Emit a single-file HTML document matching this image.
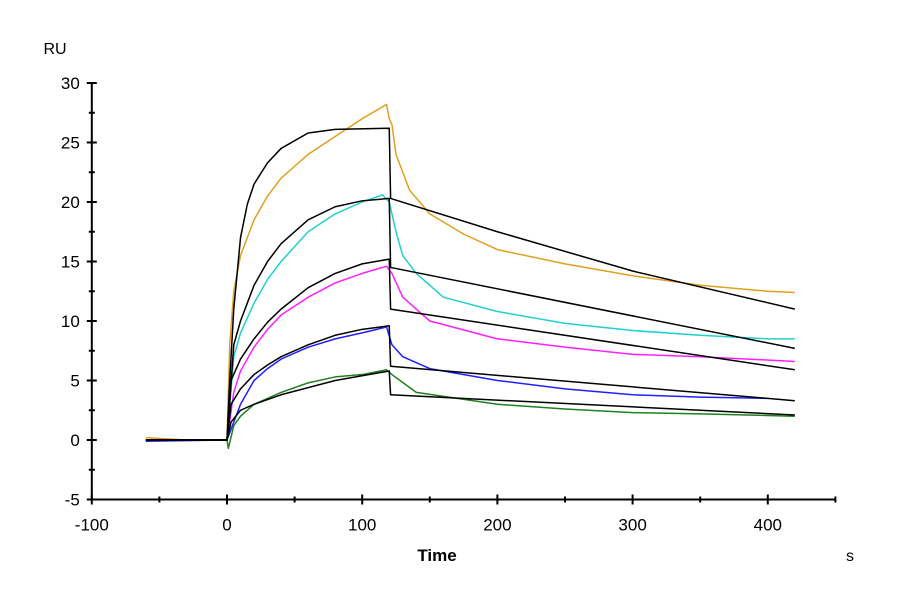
<!DOCTYPE html>
<html><head><meta charset="utf-8"><style>
body{margin:0;background:#fff}
svg text{font-family:"Liberation Sans",Arial,sans-serif;fill:#000}
</style></head><body>
<svg id="chart" width="900" height="600" viewBox="0 0 900 600" xmlns="http://www.w3.org/2000/svg">
<g id="axes"></g>
<g id="series"></g>
<text x="55" y="54" font-size="16" text-anchor="middle">RU</text>
<text x="437" y="561" font-size="17" font-weight="bold" text-anchor="middle">Time</text>
<text x="850" y="561" font-size="16" text-anchor="middle">s</text>
</svg>
<script>
const xTicks=[-100,0,100,200,300,400];
const yTicks=[-5,0,5,10,15,20,25,30];
const seriesNames=["conc-1","conc-2","conc-3","conc-4","conc-5","fit-1","fit-2","fit-3","fit-4","fit-5"];
const seriesColors=["#e0a020","#20d0d0","#ff20ff","#2020ff","#208020","#000","#000","#000","#000","#000"];
const tOrange=[-60,-30,0,2,5,10,20,30,40,60,80,100,118,120,122,125,135,150,175,200,250,300,350,400,420];
const vOrange=[0.2,0,0,8,12.5,15.5,18.5,20.5,22,24,25.5,27,28.2,27,26.5,24,21,19,17.3,16,14.8,13.8,13,12.5,12.4];
const tCyan=[-60,0,5,10,20,30,40,60,80,100,115,120,125,130,140,160,200,250,300,350,400,420];
const vCyan=[0,0,7,9,11.5,13.5,15,17.5,19,20,20.6,20,17.5,15.5,14,12,10.8,9.8,9.2,8.8,8.5,8.5];
const tMagenta=[-60,0,5,10,20,30,40,60,80,100,118,122,130,150,200,250,300,350,420];
const vMagenta=[0,0,4,5.8,7.8,9.3,10.5,12,13.2,14,14.6,14,12,10,8.5,7.8,7.2,7,6.6];
const tBlue=[-60,0,5,10,20,30,40,60,80,100,118,122,130,150,200,250,300,350,400];
const vBlue=[-0.1,0,1.5,3,5,6,6.8,7.8,8.5,9,9.5,8,7,6,5,4.3,3.8,3.6,3.5];
const tGreen=[-60,0,1,5,10,20,40,60,80,100,118,122,140,200,250,300,350,420];
const vGreen=[0,0,-0.7,1.2,2,3,4,4.8,5.3,5.5,5.9,5.5,4,3,2.6,2.3,2.2,2.0];
const tFit1=[-60,0,2,5,10,15,20,30,40,60,80,120,121,200,300,420];
const vFit1=[0,0,5,11,17,19.8,21.5,23.3,24.5,25.8,26.1,26.2,20.3,17.5,14.2,11];
const tFit2=[-60,0,5,10,20,30,40,60,80,100,120,121,420];
const vFit2=[0,0,8,10,13,15,16.5,18.5,19.6,20.1,20.3,14.5,7.7];
const tFit3=[-60,0,3,10,20,30,40,60,80,100,120,121,420];
const vFit3=[0,0,5,6.8,8.5,9.9,11,12.8,14,14.8,15.2,11,5.9];
const tFit4=[-60,0,3,10,20,30,40,60,80,100,120,121,420];
const vFit4=[0,0,3,4.3,5.5,6.3,7,8,8.8,9.3,9.6,6.2,3.3];
const tFit5=[-60,0,3,10,20,40,80,120,121,420];
const vFit5=[0,0,1.5,2.5,3,3.8,5,5.8,3.8,2.1];
const allT=[tOrange,tCyan,tMagenta,tBlue,tGreen,tFit1,tFit2,tFit3,tFit4,tFit5];
const allV=[vOrange,vCyan,vMagenta,vBlue,vGreen,vFit1,vFit2,vFit3,vFit4,vFit5];
const X=t=>227+t*1.352;
const Y=v=>440-v*11.9;
const NS="http://www.w3.org/2000/svg";
const ax=document.getElementById('axes');
function ln(x1,y1,x2,y2,name){const l=document.createElementNS(NS,'line');
l.setAttribute('x1',x1);l.setAttribute('y1',y1);l.setAttribute('x2',x2);l.setAttribute('y2',y2);
l.setAttribute('stroke','#000');l.setAttribute('stroke-width','2');


ax.appendChild(l);}
ln(X(-100),Y(-5),835,Y(-5),'x-axis-line');
ln(X(-100),Y(30),X(-100),Y(-5),'y-axis-line');
xTicks.forEach(t=>{ln(X(t),Y(-5)-5,X(t),Y(-5)+5,'x-tick');
const tx=document.createElementNS(NS,'text');tx.setAttribute('x',X(t));tx.setAttribute('y',Y(-5)+31);
tx.setAttribute('font-size','17');tx.setAttribute('text-anchor','middle');tx.textContent=t;


ax.appendChild(tx);
if(t+50<=450) ln(X(t+50),Y(-5)-3,X(t+50),Y(-5)+3,'x-minor-tick');});
yTicks.forEach(v=>{ln(X(-100)-5,Y(v),X(-100)+5,Y(v),'y-tick');
const tx=document.createElementNS(NS,'text');tx.setAttribute('x',X(-100)-12);tx.setAttribute('y',Y(v)+6);
tx.setAttribute('font-size','17');tx.setAttribute('text-anchor','end');tx.textContent=v;


ax.appendChild(tx);
if(v<30) ln(X(-100)-3,Y(v+2.5),X(-100)+3,Y(v+2.5),'y-minor-tick');});
const sg=document.getElementById('series');
allT.forEach((ts,i)=>{const p=document.createElementNS(NS,'polyline');
p.setAttribute('points',ts.map((t,j)=>X(t)+','+Y(allV[i][j])).join(' '));
p.setAttribute('fill','none');p.setAttribute('stroke',seriesColors[i]);p.setAttribute('stroke-width','1.5');
p.setAttribute('stroke-linejoin','round');


sg.appendChild(p);});
</script>
</body></html>
